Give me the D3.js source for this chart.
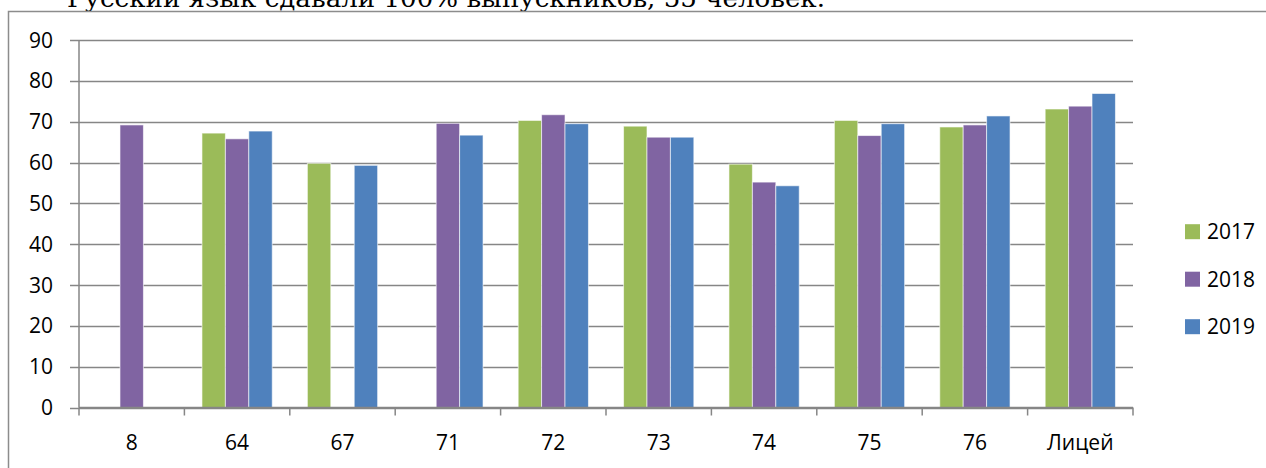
<!DOCTYPE html>
<html><head><meta charset="utf-8">
<script src="https://cdn.jsdelivr.net/npm/d3@7"></script>
<style>
html,body{margin:0;padding:0;background:#fff;}
svg{display:block;}
text{font-family:"Open Sans","Noto Sans",sans-serif;}
</style></head>
<body>
<svg id="c" width="1266" height="468"></svg>
<script>
const categories = ["8","64","67","71","72","73","74","75","76","Лицей"];
const series = ["2017","2018","2019"];
const v2017 = [null,67.2,59.8,null,70.3,68.9,59.6,70.3,68.7,73.1];
const v2018 = [69.2,65.8,null,69.6,71.7,66.2,55.2,66.6,69.2,73.8];
const v2019 = [null,67.7,59.3,66.7,69.5,66.2,54.3,69.5,71.4,76.9];
const yTicks = [0,10,20,30,40,50,60,70,80,90];
const colors = ["#9BBB59","#8064A2","#4F81BD"];
const heading = "Русский язык сдавали 100% выпускников, 55 человек.";

const values = [v2017, v2018, v2019];
const svg = d3.select("#c");

// heading text (cut off at top, as in the reference)
svg.append("text").attr("x",67).attr("y",7)
  .style("font-family","'DejaVu Serif',serif").attr("font-size",25).attr("fill","#000")
  .attr("textLength",758).attr("lengthAdjust","spacingAndGlyphs").text(heading);

// chart border
svg.append("rect").attr("x",8.5).attr("y",11.5).attr("width",1300).attr("height",500)
  .attr("fill","#fff").attr("stroke","#8c8c8c").attr("stroke-width",1.5);

const L=79, R=1133, T=40, B=407.5;
const x = d3.scaleBand().domain(categories).range([L,R]);
const bw = x.bandwidth()/4.5;
const xs = d3.scaleBand().domain(series).range([0, bw*3]);
const y = d3.scaleLinear().domain([0,90]).range([B,T]);

// gridlines
svg.append("g").selectAll("line").data(yTicks).join("line")
  .attr("x1",70).attr("x2",R).attr("y1",d=>Math.round(y(d))+0.5).attr("y2",d=>Math.round(y(d))+0.5)
  .attr("stroke","#868686").attr("stroke-width",1.5);
// y axis line
svg.append("line").attr("x1",L).attr("x2",L).attr("y1",T).attr("y2",B)
  .attr("stroke","#868686").attr("stroke-width",1.5);
// y labels
svg.append("g").selectAll("text").data(yTicks).join("text")
  .attr("x",53).attr("y",d=>y(d)).attr("dy","0.36em").attr("text-anchor","end")
  .attr("font-size",21).attr("fill","#000").text(d=>d);

// bars
const g = svg.append("g");
series.forEach((s,si)=>{
  g.selectAll(null).data(categories.map((c,i)=>({c,v:values[si][i]})).filter(d=>d.v!=null))
   .join("rect")
   .attr("x",d=>x(d.c)+0.75*bw + xs(s))
   .attr("y",d=>y(d.v)).attr("width",bw).attr("height",d=>B-y(d.v))
   .attr("fill",colors[si]).attr("stroke","rgba(255,255,255,0.6)").attr("stroke-width",1);
});

// x axis
svg.append("line").attr("x1",L).attr("x2",R).attr("y1",B).attr("y2",B).attr("stroke","#868686").attr("stroke-width",1.5);
const xt = categories.map(c=>x(c)).concat([R]);
svg.append("g").selectAll("line").data(xt).join("line")
  .attr("x1",d=>d).attr("x2",d=>d).attr("y1",B).attr("y2",B+8).attr("stroke","#868686").attr("stroke-width",1.5);
svg.append("g").selectAll("text").data(categories).join("text")
  .attr("x",d=>x(d)+x.bandwidth()/2).attr("y",442).attr("dy","0.36em").attr("text-anchor","middle")
  .attr("font-size",21).attr("fill","#000").text(d=>d);

// legend
const lg = svg.append("g");
series.forEach((s,i)=>{
  const cy = 231.7 + i*47.5;
  lg.append("rect").attr("x",1185).attr("y",cy-7.5).attr("width",15).attr("height",15).attr("fill",colors[i]);
  lg.append("text").attr("x",1207).attr("y",cy).attr("dy","0.36em").attr("font-size",21).attr("fill","#000").text(s);
});
</script>
</body></html>
